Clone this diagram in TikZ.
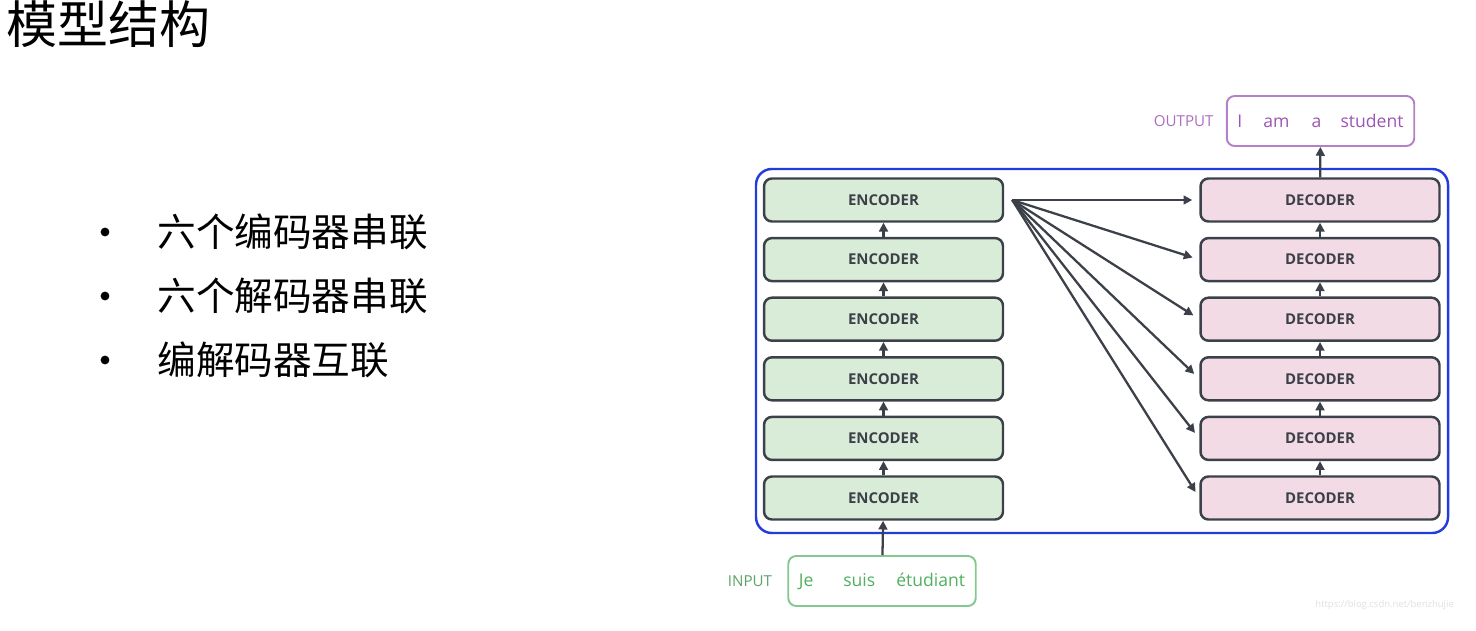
\documentclass[tikz,border=0pt]{standalone}
\usepackage{fontspec}
\setmainfont{Open Sans}
\newfontfamily\cjk{Noto Sans CJK SC}
\usepackage{xcolor}
\usetikzlibrary{arrows.meta,positioning}
\definecolor{encfill}{RGB}{217,236,216}
\definecolor{decfill}{RGB}{243,219,230}
\definecolor{boxline}{RGB}{60,64,72}
\definecolor{stackblue}{RGB}{35,60,220}
\definecolor{ingreen}{RGB}{80,175,95}
\definecolor{outpurple}{RGB}{155,85,180}

\begin{document}
\begin{tikzpicture}[x=0.02cm,y=-0.02cm,>={Triangle[length=5pt,width=5pt]},
 layer/.style={draw=boxline,line width=1.4pt,rounded corners=4.5pt,minimum width=4.78cm,minimum height=0.86cm,inner sep=0pt,font=\bfseries\fontsize{8.5}{10}\selectfont,text=boxline},
 enc/.style={layer,fill=encfill},
 dec/.style={layer,fill=decfill},
 link/.style={->,draw=boxline,line width=1.3pt},
 sentence/.style={line width=1.1pt,rounded corners=4.5pt,minimum width=3.75cm,minimum height=1cm,inner sep=0pt,font=\fontsize{10}{12}\selectfont},
 tag/.style={inner sep=0pt,font=\fontsize{8.6}{10}\selectfont}]
\useasboundingbox(0,0)rectangle(1476,631);
\node[anchor=west,inner sep=0pt,font=\cjk\fontsize{29}{34}\selectfont](title)at(6,24){模型结构};
\foreach \t [count=\i] in {六个编码器串联,六个解码器串联,编解码器互联}{
 \node[circle,fill=black,inner sep=0pt,minimum size=5pt](dot\i)at(105,{168+64*\i}){};
 \node[anchor=west,inner sep=0pt,font=\cjk\fontsize{22}{26}\selectfont](item\i)at(157,{168+64*\i}){\t};
}
\draw[stackblue,line width=1.4pt,rounded corners=9pt](756,169)rectangle(1448,533);
\foreach \i in {1,...,6}{
 \node[enc](enc\i)at(883.5,{140.4+59.6*\i}){ENCODER};
 \node[dec](dec\i)at(1320,{140.4+59.6*\i}){DECODER};
}
\foreach \i [count=\j from 2] in {1,...,5}{
 \draw[link](enc\j)--(enc\i);
 \draw[link](dec\j)--(dec\i);
}
\coordinate(fan)at([xshift=0.16cm]enc1.east);
\foreach \i in {1,...,6}
 \draw[link,shorten >=0.14cm](fan)--(dec\i.west);
\node[sentence,draw=ingreen!70,text=ingreen](input)at(882,581){Je\hspace{17pt}suis\hspace{12pt}étudiant};
\node[tag,text=ingreen!75!gray,left=0.3cm of input](inlabel){INPUT};
\node[sentence,draw=outpurple!75,text=outpurple](output)at(1320.5,121){I\hspace{12pt}am\hspace{12.5pt}a\hspace{11pt}student};
\node[tag,text=outpurple!85,left=0.24cm of output](outlabel){OUTPUT};
\draw[link](input)--(enc6);
\draw[link](dec1)--(output);
\node[anchor=east,text=black!12,font=\fontsize{5.4}{6}\selectfont](mark)at(1460,605){https://blog.csdn.net/benzhujie};
\end{tikzpicture}
\end{document}
